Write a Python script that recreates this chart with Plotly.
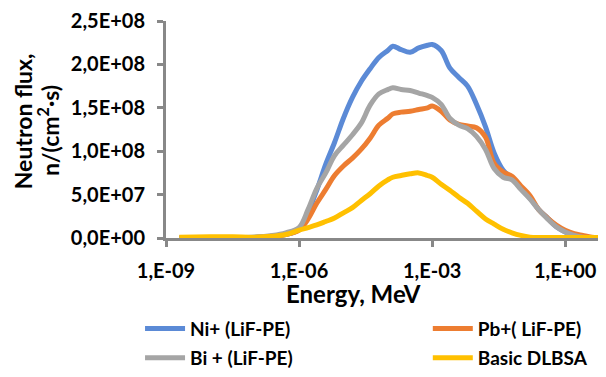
import plotly.graph_objects as go

energy = [2.0e-9, 1.0e-8, 3.2e-8, 1.0e-7, 2.5e-7, 5.0e-7, 1.0e-6, 1.6e-6, 2.5e-6, 4.0e-6,
          6.3e-6, 1.0e-5, 1.6e-5, 2.5e-5, 4.0e-5, 6.3e-5, 1.0e-4, 1.3e-4, 2.0e-4, 3.2e-4,
          5.0e-4, 7.9e-4, 1.0e-3, 1.6e-3, 2.5e-3, 4.0e-3, 6.3e-3, 1.0e-2, 1.6e-2, 2.5e-2,
          4.0e-2, 6.3e-2, 0.1, 0.16, 0.25, 0.4, 0.63, 1.0, 1.6, 2.5, 4.0, 8.0]

ni = [0, 0.05, 0.05, 0.1, 0.2, 0.4, 1.0, 3.0, 5.5, 8.5,
      11.0, 13.8, 16.2, 18.0, 19.5, 20.8, 21.6, 22.1, 21.7, 21.4,
      21.9, 22.2, 22.3, 21.6, 19.6, 18.5, 17.5, 15.4, 12.8, 9.8,
      7.8, 6.9, 5.7, 4.6, 3.3, 2.3, 1.3, 0.7, 0.3, 0.1, 0.05, 0]
pb = [0, 0, 0, 0.05, 0.2, 0.4, 0.9, 2.2, 4.0, 5.6,
      7.2, 8.3, 9.2, 10.2, 11.5, 13.0, 13.8, 14.3, 14.5, 14.6,
      14.8, 15.0, 15.2, 14.6, 13.6, 13.1, 12.9, 12.7, 11.6, 8.6,
      7.6, 7.1, 6.0, 4.9, 3.3, 2.3, 1.5, 0.9, 0.5, 0.3, 0.1, 0]
bi = [0, 0.02, 0.05, 0.1, 0.3, 0.6, 1.2, 3.3, 5.7, 7.5,
      9.5, 10.7, 11.9, 13.2, 15.3, 16.6, 17.1, 17.3, 17.1, 17.0,
      16.7, 16.4, 16.2, 15.4, 13.8, 13.0, 12.6, 11.7, 10.2, 8.0,
      7.0, 6.7, 5.6, 4.5, 3.3, 2.2, 1.3, 0.7, 0.3, 0.1, 0.05, 0]
basic = [0.1, 0.15, 0.15, 0.1, 0.2, 0.4, 0.9, 1.2, 1.5, 1.9,
         2.3, 2.9, 3.5, 4.3, 5.1, 6.0, 6.7, 7.0, 7.2, 7.4,
         7.5, 7.2, 7.0, 6.2, 5.5, 4.7, 4.0, 3.1, 2.2, 1.6,
         1.0, 0.6, 0.3, 0.1, 0.05, 0.05, 0.05, 0.05, 0.05, 0.05, 0.05, 0.05]
scale = 1e7

series_names = ["Ni+ (LiF-PE)", "Pb+( LiF-PE)", "Bi + (LiF-PE)", "Basic DLBSA"]
series_colors = ["#5B8AD6", "#ED7D31", "#A5A5A5", "#FFC000"]
series_values = [ni, pb, bi, basic]
series_legends = ["legend", "legend2", "legend3", "legend4"]

x_tickvals = [1e-9, 1e-6, 1e-3, 1.0]
x_ticktext = ["1,E-09", "1,E-06", "1,E-03", "1,E+00"]
y_tickvals = [0, 5e7, 1e8, 1.5e8, 2e8, 2.5e8]
y_ticktext = ["0,0E+00", "5,0E+07", "1,0E+08", "1,5E+08", "2,0E+08", "2,5E+08"]

x_title = "Energy, MeV"
y_title_lines = ["Neutron flux,", "n/(cm<sup>2</sup>·s)"]

FONT = "Lato"
fig = go.Figure()
for name, col, vals, lg in zip(series_names, series_colors, series_values, series_legends):
    fig.add_trace(go.Scatter(
        x=energy, y=[v * scale for v in vals], name=name, mode="lines",
        line=dict(color=col, width=5, shape="spline", smoothing=1.0),
        legend=lg,
    ))

axis_col = "#888888"
leg_font = dict(family=FONT, size=19, weight="bold", color="#000000")
col_x = [-0.059, 0.595]
row_y = [-0.418, -0.556]
leg_pos = [(col_x[0], row_y[0]), (col_x[1], row_y[0]), (col_x[0], row_y[1]), (col_x[1], row_y[1])]
leg_layout = {}
for lg, (lx, ly) in zip(series_legends, leg_pos):
    leg_layout[lg] = dict(x=lx, y=ly, xanchor="left", yanchor="middle", font=leg_font,
                          bgcolor="rgba(0,0,0,0)", borderwidth=0, itemwidth=40)

# the page body adds an 8px offset, so the figure is 8px smaller and margins shifted
fig.update_layout(
    width=598, height=369,
    margin=dict(l=158, r=0, t=8, b=136),
    paper_bgcolor="white", plot_bgcolor="white",
    font=dict(family=FONT, color="#000000", size=17, weight="bold"),
    xaxis=dict(
        type="log", range=[-9, 0.92], tickvals=x_tickvals, ticktext=x_ticktext,
        showgrid=False, zeroline=False, showline=True, linecolor=axis_col, linewidth=3,
        ticks="outside", ticklen=6, tickwidth=3, tickcolor=axis_col,
        tickfont=dict(family=FONT, size=20, weight="bold"), ticklabelstandoff=7,
        ticklabeloverflow="allow",
    ),
    yaxis=dict(
        range=[0, 2.5e8], tickvals=y_tickvals, ticktext=y_ticktext,
        showgrid=False, zeroline=False, showline=True, linecolor=axis_col, linewidth=3,
        ticks="outside", ticklen=6, tickwidth=3, tickcolor=axis_col,
        tickfont=dict(family=FONT, size=20, weight="bold"), ticklabelstandoff=8,
        ticklabeloverflow="allow",
    ),
    showlegend=True,
    **leg_layout,
)

fig.add_annotation(text=x_title, xref="paper", yref="paper", x=0.426, y=-0.258,
                   xanchor="center", yanchor="middle", showarrow=False,
                   font=dict(family=FONT, size=24, weight="bold", color="#000000"))
ytf = dict(family=FONT, size=23, weight="bold", color="#000000")
fig.add_annotation(text=y_title_lines[0], xref="paper", yref="paper", x=-0.325, y=0.538,
                   xanchor="center", yanchor="middle", showarrow=False, font=ytf, textangle=-90)
fig.add_annotation(text=y_title_lines[1], xref="paper", yref="paper", x=-0.268, y=0.493,
                   xanchor="center", yanchor="middle", showarrow=False, font=ytf, textangle=-90)
fig.write_html("out.html")
